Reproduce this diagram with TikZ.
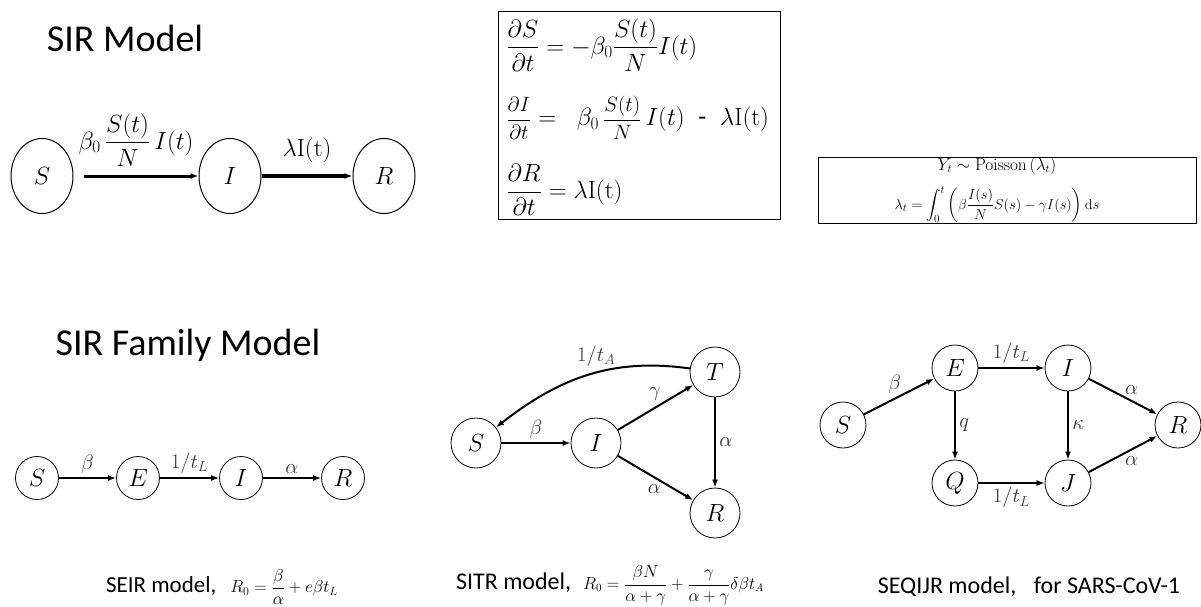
\documentclass[tikz,border=0pt]{standalone}
\usepackage{amsmath}
\usepackage[no-math]{fontspec}
\setmainfont{Carlito}
\usepackage{tikz}
\usetikzlibrary{positioning,arrows.meta,shapes.geometric}

\newcommand{\fs}[1]{\fontsize{#1}{#1}\selectfont}

\begin{document}
\begin{tikzpicture}[x=1pt,y=-1pt,
    title/.style={font=\fs{38}},
    caption/.style={font=\fs{23}},
    big state/.style={ellipse,draw,line width=1pt,minimum width=62,minimum height=75,inner sep=0pt,font=\fs{38}},
    seir state/.style={circle,draw,line width=0.8pt,minimum size=43,inner sep=0pt,font=\fs{25}},
    sitr state/.style={circle,draw,line width=0.8pt,minimum size=50,inner sep=0pt,font=\fs{29}},
    seq state/.style={circle,draw,line width=0.8pt,minimum size=46,inner sep=0pt,font=\fs{27}},
    flow/.style={-{Latex[length=8pt,width=6pt]},line width=2pt},
    rate/.style={font=\fs{22},text=black!80},
    eqbox/.style={draw,line width=1pt,inner sep=0pt}]

  \useasboundingbox (0,0) rectangle (1201,607);

  % SIR model
  \node[title] (sirtitle) at (125,38) {SIR Model};
  \node[big state] (S1) at (42,176) {$S$};
  \node[big state] (I1) at (230,176) {$I$};
  \node[big state] (R1) at (384,176) {$R$};
  \draw[flow,line width=3pt,shorten <=10pt] (S1) -- node[above=5pt,font=\fs{26}] {$\displaystyle\beta_0\,\frac{S(t)}{N}\,I(t)$} (I1);
  \draw[flow,line width=4pt] (I1) -- node[above=8pt,font=\fs{23}] {$\lambda\mathrm{I(t)}$} (R1);

  % equations
  \node[eqbox,minimum width=282,minimum height=207] (eqs) at (639,115.5) {};
  \node[anchor=west,font=\fs{23.5}] (eqS) at (503,45) {$\displaystyle\frac{\partial S}{\partial t}=-\beta_0\frac{S(t)}{N}I(t)$};
  \node[anchor=west,font=\fs{26}] (eqI) at (503,118) {{\fs{22}$\displaystyle\frac{\partial I}{\partial t}$}$\;=\;\;\beta_0\,${\fs{22}$\displaystyle\frac{S(t)}{N}$}$\,I(t)\;\;\text{-}\;\;\lambda\mathrm{I(t)}$};
  \node[anchor=west,font=\fs{23.5}] (eqR) at (503,190) {$\displaystyle\frac{\partial R}{\partial t}=\lambda\mathrm{I(t)}$};

  \node[eqbox,minimum width=378,minimum height=66] (pois) at (1007,190) {};
  \node[font=\fs{16}] (poisY) at (997,166) {$Y_t\sim\mathrm{Poisson}\left(\lambda_t\right)$};
  \node[font=\fs{15.5}] (poisL) at (997,205) {$\displaystyle\lambda_t=\int_0^t\left(\beta\frac{I(s)}{N}S(s)-\gamma I(s)\right)\mathrm{d}s$};

  % SIR family
  \node[title] (famtitle) at (188,345) {SIR Family Model};

  % SEIR
  \node[seir state] (S2) at (37,478) {$S$};
  \node[seir state] (E2) at (138,478) {$E$};
  \node[seir state] (I2) at (241,478) {$I$};
  \node[seir state] (R2) at (343,478) {$R$};
  \path[flow,every node/.style={rate,above}]
    (S2) edge node {$\beta$} (E2)
    (E2) edge node {$1/t_L$} (I2)
    (I2) edge node {$\alpha$} (R2);
  \node[caption] (seircap) at (222,587) {SEIR model,\hspace{14pt}{\fs{17}$R_0=\dfrac{\beta}{\alpha}+e\beta t_L$}};

  % SITR
  \node[sitr state] (S3) at (476,443) {$S$};
  \node[sitr state] (I3) at (596,443) {$I$};
  \node[sitr state] (T3) at (715,372) {$T$};
  \node[sitr state] (R3) at (715,513) {$R$};
  \path[flow,every node/.style={rate}]
    (S3) edge node[above] {$\beta$} (I3)
    (I3) edge node[above left=-3pt,pos=0.6] {$\gamma$} (T3)
    (I3) edge node[below left=-3pt,pos=0.6] {$\alpha$} (R3)
    (T3) edge node[right] {$\alpha$} (R3)
    (T3) edge[out=172,in=38] node[above=2pt,pos=0.45] {$1/t_A$} (S3);
  \node[caption,font=\fs{24}] (sitrcap) at (610,585) {SITR model,\hspace{12pt}{\fs{16}$R_0=\dfrac{\beta N}{\alpha+\gamma}+\dfrac{\gamma}{\alpha+\gamma}\delta\beta t_A$}};

  % SEQIJR
  \node[seq state] (S4) at (843,425) {$S$};
  \node[seq state] (E4) at (955,368) {$E$};
  \node[seq state] (I4) at (1068,368) {$I$};
  \node[seq state] (Q4) at (955,483) {$Q$};
  \node[seq state] (J4) at (1068,483) {$J$};
  \node[seq state] (R4) at (1178,425) {$R$};
  \path[flow,every node/.style={rate}]
    (S4) edge node[above left=-4pt,pos=0.55] {$\beta$} (E4)
    (E4) edge node[above] {$1/t_L$} (I4)
    (E4) edge node[right] {$q$} (Q4)
    (I4) edge node[right] {$\kappa$} (J4)
    (Q4) edge node[below] {$1/t_L$} (J4)
    (I4) edge node[above right=-3pt] {$\alpha$} (R4)
    (J4) edge node[below right=-3pt] {$\alpha$} (R4);
  \node[caption,font=\fs{24}] (seqcap) at (1029,587) {SEQIJR model,\enspace\ for SARS-CoV-1};
\end{tikzpicture}
\end{document}
